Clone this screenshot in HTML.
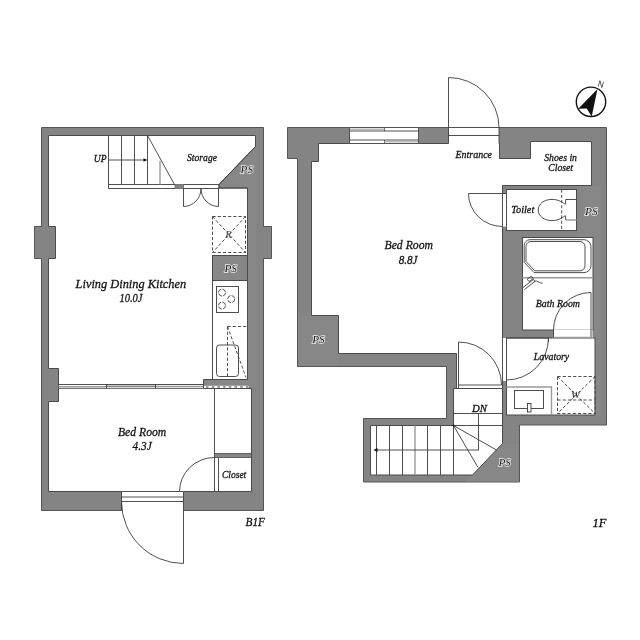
<!DOCTYPE html>
<html lang="en">
<head>
<meta charset="utf-8">
<title>Floor Plan B1F / 1F</title>
<style>
html,body{margin:0;padding:0;background:#fff;}
body{width:640px;height:640px;overflow:hidden;}
svg{display:block;filter:grayscale(1);}
text{font-family:"Liberation Serif","DejaVu Serif",serif;font-style:italic;fill:#111;stroke:#111;stroke-width:0.3px;}
.w{fill:#848484;stroke:#555;stroke-width:1;}
.p{fill:#878787;stroke:none;}
.r{fill:#fff;stroke:#4a4a4a;stroke-width:1;}
.l{fill:none;stroke:#3c3c3c;stroke-width:0.9;}
.g{fill:none;stroke:#9a9a9a;stroke-width:1.4;}
.d{fill:none;stroke:#3c3c3c;stroke-width:0.9;stroke-dasharray:3.2 2;}
.ps{paint-order:stroke;stroke:#f4f4f4;stroke-width:1.5px;stroke-linejoin:round;fill:#111;font-size:11px;}
.s{font-size:11px;}
.b{font-size:13.4px;}
</style>
</head>
<body>
<svg width="640" height="640" viewBox="0 0 640 640">
<rect width="640" height="640" fill="#fff"/>

<!-- ================= B1F ================= -->
<g id="b1f">
<polygon class="w" points="41.5,127.5 263.5,127.5 263.5,226.5 271.5,226.5 271.5,258.5 263.5,258.5 263.5,510.5 41.5,510.5 41.5,258.5 34.5,258.5 34.5,226.5 41.5,226.5"/>
<!-- lighter PS zones -->
<polygon class="p" points="256,147 256,388 247,388 247,188 219,188 219,184.5"/>
<polygon class="r" points="48.5,135.5 255.5,135.5 255.5,146.5 219,184.5 219,188 247.5,188 247.5,388.5 251.5,388.5 251.5,491.5 48.5,491.5 48.5,401.5 58.5,401.5 58.5,368.5 48.5,368.5 48.5,258.5 55.5,258.5 55.5,226.5 48.5,226.5"/>
<polygon class="p" points="256,146.5 219.5,184.5 219.5,187.5 248,187.5 248,388 256,388" />
<path class="l" d="M255.5,146.5L219,184.5V188H247.5" stroke="#4a4a4a"/>
<!-- PS block and kitchen base block -->
<rect x="212.5" y="255.5" width="35" height="25" fill="#878787" stroke="#4a4a4a"/>
<rect x="203.5" y="379.5" width="48.5" height="9" fill="#878787"/><path d="M247.5,379.5H203.5V388.5" fill="none" stroke="#4a4a4a"/>
<rect x="204" y="385.8" width="44.5" height="2.2" fill="#fff"/>
<line x1="204" y1="386.9" x2="248" y2="386.9" stroke="#999" stroke-width="2.2" stroke-dasharray="2.5 3.2" stroke-dashoffset="-2"/>
<path class="l" d="M203.5,388.5H251.5"/>
<!-- stairs -->
<path class="l" d="M108.5,135.5V188.5M121.5,135.5V184.5M134.5,135.5V184.5M147.5,135.5V184.5M108.5,184.5H175M108.5,188.5H175M147.5,135.5L174.5,184.5"/>
<path class="g" d="M160,161V184.5" stroke-width="1"/>
<path class="l" d="M109,160H145" stroke="#666"/>
<polygon points="147.5,160 143.5,158.2 143.5,161.8" fill="#111"/>
<rect x="175" y="184.5" width="8.5" height="4" fill="#848484" stroke="#4a4a4a" stroke-width="0.6"/>
<!-- storage double door -->
<path class="l" d="M183.5,184.5H219M183.5,188.5H219M183.5,188.5V206.5M218.5,188.5V206.5M183.5,206.5A17.5,18 0 0 0 201,188.5M218.5,206.5A17.5,18 0 0 1 201,188.5"/>
<!-- R box -->
<rect class="d" x="212.5" y="216.5" width="33" height="36"/>
<path class="d" d="M212.5,216.5L245.5,252.5M245.5,216.5L212.5,252.5" stroke-dasharray="4 2.2"/>
<!-- kitchen counter -->
<path class="l" d="M212.5,280.5V379.5"/>
<rect class="l" x="216.5" y="286.5" width="22" height="26"/>
<circle class="l" cx="222" cy="292.6" r="3.5" stroke-width="1.1" stroke-dasharray="4.2 1.3"/>
<circle class="l" cx="231.2" cy="299.1" r="3.5" stroke-width="1.1" stroke-dasharray="4.2 1.3"/>
<circle class="l" cx="222" cy="305.6" r="3.5" stroke-width="1.1" stroke-dasharray="4.2 1.3"/>
<path class="d" d="M227.5,326.5H247M227.5,326.5V378M227.5,326.5L246,377.5"/>
<rect class="l" x="216.5" y="345" width="22" height="31.5" rx="3" ry="3"/>
<!-- sliding door -->
<path class="l" d="M58.5,384.5H203.5M58.5,388.3H203.5"/>
<path class="g" d="M58.5,386.6H106M155,386.4H203" stroke-width="1"/>
<path class="l" d="M106.5,384V388.5M155.5,384V388.5M106,386.2H155"/>
<!-- closet -->
<path class="l" d="M214.5,388.5V491.5M218.5,457.5V491.5"/>
<rect x="214.5" y="453.5" width="37" height="4" fill="#878787" stroke="#4a4a4a" stroke-width="0.8"/>
<path class="l" d="M179.5,491.5A35,34 0 0 1 214.5,457.5"/>
<!-- entrance door -->
<rect x="121.5" y="491" width="62" height="20.5" fill="#fff"/>
<path class="l" d="M121.5,491.5H183.5M121.5,497H183.5M121.5,501.5H183.5M121.5,491.5V510.5M183.5,491.5V563.5M121.5,501.5A62,62 0 0 0 183.5,563.5"/>
</g>

<!-- ================= 1F ================= -->
<g id="f1">
<polygon class="w" points="287.5,127.5 606.5,127.5 606.5,425 519.5,425 519.5,482 363.5,482 363.5,418.5 446.5,418.5 446.5,366.5 297.5,366.5 297.5,158.5 287.5,158.5"/>
<!-- lighter PS zones -->
<rect class="p" x="298.5" y="316" width="40" height="50"/>
<rect class="p" x="577" y="186" width="24" height="52"/>
<rect class="p" x="593.5" y="238" width="7.5" height="177"/>
<polygon class="p" points="502.5,444 519,444 519,481.5 466,481.5"/>
<polygon class="r" points="318.5,143.5 499.5,143.5 499.5,158.5 530.5,158.5 530.5,141.5 591.5,141.5 591.5,185.5 502.5,185.5 502.5,388.5 456.5,388.5 456.5,353.5 338.5,353.5 338.5,315.5 311.5,315.5 311.5,161.5 318.5,161.5"/>
<polygon class="r" points="453.5,388.5 502.5,388.5 502.5,443.5 472.5,475 370.5,475 370.5,425.5 453.5,425.5"/>
<rect class="r" x="506.5" y="189.5" width="70" height="41"/>
<rect class="r" x="522.5" y="237.5" width="70.5" height="92.5"/>
<rect class="r" x="506.5" y="338" width="88.5" height="77"/>
<!-- window -->
<rect x="349.5" y="127.5" width="69" height="16" fill="#fff" stroke="#4a4a4a" stroke-width="0.9"/>
<path class="l" d="M349.5,131H418.5M349.5,140H418.5M384.5,128V131M384.5,140V143"/>
<path d="M350,129.2H384.5M384.5,141.8H418" stroke="#bbb" stroke-width="1.4" fill="none"/>
<!-- entrance door -->
<rect x="448.5" y="126.5" width="50.5" height="17.5" fill="#fff"/>
<path class="l" d="M448.5,127.5H499M448.5,135.5H499M448.5,77.5V143.5M499,127.5V143.5M448.5,77.5A50.5,50 0 0 1 499,127.5"/>
<!-- toilet door -->
<rect x="502" y="193.5" width="5" height="33" fill="#fff"/>
<path class="l" d="M502.5,193.5V226.5M506.5,193.5V226.5M468.5,193.5H506.5M468.5,193.5A34,33 0 0 0 502.5,226.5"/>
<!-- toilet -->
<path class="l" d="M565.6,204.2 C563,203.5 560,199.4 552,199.4 C544,199.4 538.2,204 538.2,210 C538.2,216 544,220.6 552,220.6 C560,220.6 563,216.5 565.6,215.8"/>
<path class="l" d="M565.6,199.5H576.5M565.6,199.5V204.2M565.6,215.8V220"/>
<path class="g" d="M565.6,220H576.5"/>
<path class="d" d="M561.7,189.5V230.5"/>
<!-- bathtub -->
<path class="l" d="M530,239.7H584A7,7 0 0 1 591,246.7V265.6A7,7 0 0 1 584,272.6H534L524.2,262.3V245.5A5.8,5.8 0 0 1 530,239.7Z" stroke="#666"/>
<path class="l" d="M531,241.5H580A5,5 0 0 1 585,246.5V265.8A5,5 0 0 1 580,270.8H534.8L526,261.5V246.5A5,5 0 0 1 531,241.5Z"/>
<path class="g" d="M522.5,277.8H593" stroke-width="1.6"/>
<!-- shower -->
<path class="l" d="M523,287.5L533.5,279.5L535,281.3L524.5,289.5M527.2,279.2L531.5,276.2L533.2,278.6L529,281.6ZM534.3,281.2C537.5,280.2 539.5,283.4 542.6,283.2"/>
<!-- bath door -->
<rect x="553.5" y="329.5" width="39" height="8.5" fill="#fff"/>
<path class="l" d="M553.5,330V338M591,292.5V338M591,292.5A37.5,37.5 0 0 0 553.5,330"/>
<path class="g" d="M553.5,337.5H592"/>
<!-- lavatory door -->
<rect x="502" y="338" width="5" height="43" fill="#fff"/>
<path class="l" d="M502.5,338V381.5M506.5,338V381.5M506.5,338H548.5M548.5,338V342M548.5,338A42,42 0 0 1 506.5,380"/>
<!-- sink -->
<path class="g" d="M506.5,387H551.5V415"/>
<rect class="l" x="514.5" y="390.5" width="29" height="18"/>
<rect x="527.5" y="403.5" width="3.5" height="8.5" fill="#fff" stroke="#3c3c3c" stroke-width="0.9"/>
<!-- W box -->
<rect class="d" x="557.5" y="376.5" width="37.5" height="37"/>
<path class="d" d="M557.5,376.5L595,413.5M595,376.5L557.5,413.5M557.5,400H595" stroke-dasharray="4 2.2"/>
<!-- stairs door -->
<path class="l" d="M458.5,342V388.5M458.5,385H501.5M458.5,342A43,43 0 0 1 501.5,385"/>
<!-- stairs -->
<path class="l" d="M453.5,413.5H502.5M453.5,425.5H502.5M376.5,425.5V475M389.5,425.5V475M402.5,425.5V475M427.5,425.5V475M440.5,425.5V475M453.5,425.5V475M453.5,425.5L496.5,450M453.5,425.5L478,467.5"/>
<path class="g" d="M415,425.5V475"/>
<path class="l" d="M377,450H478" stroke="#666"/>
<path class="l" d="M478.5,413.5V450.5"/>
<polygon points="373.5,450 377.5,448 377.5,452" fill="#111"/>
<circle cx="453.5" cy="425.5" r="1" fill="#111"/>
</g>

<!-- compass -->
<circle cx="591" cy="101.8" r="14.7" fill="#fff" stroke="#111" stroke-width="1.4"/>
<polygon points="597.5,89.1 578.3,108.8 586.7,108.4 591.7,116.6" fill="#111"/>
<text x="0" y="0" transform="translate(597.2,86.3) rotate(16)" textLength="5.8" lengthAdjust="spacingAndGlyphs" style="font-family:'Liberation Sans',sans-serif;font-size:8.8px;font-style:normal;stroke:none;fill:#222">N</text>

<!-- labels -->
<text class="s" x="93.75" y="162" textLength="12.75" lengthAdjust="spacingAndGlyphs">UP</text>
<text class="s" x="187" y="160.75" textLength="30" lengthAdjust="spacingAndGlyphs">Storage</text>
<text class="s ps" x="240.6" y="173" textLength="12.4" lengthAdjust="spacingAndGlyphs">PS</text>
<text class="s" x="225.2" y="237.8" textLength="6.5" lengthAdjust="spacingAndGlyphs" style="fill:#444;stroke:none">R</text>
<text class="s ps" x="224.5" y="272" textLength="12.5" lengthAdjust="spacingAndGlyphs">PS</text>
<text class="b" x="75.6" y="287.5" textLength="110.6" lengthAdjust="spacingAndGlyphs">Living Dining Kitchen</text>
<text class="b" x="119.4" y="302" textLength="23.1" lengthAdjust="spacingAndGlyphs">10.0J</text>
<text class="b" x="118" y="436.25" textLength="48.25" lengthAdjust="spacingAndGlyphs">Bed Room</text>
<text class="b" x="132.5" y="450.1" textLength="19.25" lengthAdjust="spacingAndGlyphs">4.3J</text>
<text class="s" x="222" y="478" textLength="24.25" lengthAdjust="spacingAndGlyphs">Closet</text>
<text class="b" x="245.5" y="525.5" textLength="19.5" lengthAdjust="spacingAndGlyphs">B1F</text>

<text class="s" x="455.5" y="158.25" textLength="36.5" lengthAdjust="spacingAndGlyphs">Entrance</text>
<text class="s" x="544.25" y="161.25" textLength="32.75" lengthAdjust="spacingAndGlyphs">Shoes in</text>
<text class="s" x="548.25" y="170.75" textLength="24.75" lengthAdjust="spacingAndGlyphs">Closet</text>
<text class="s" x="511.25" y="212.5" textLength="23" lengthAdjust="spacingAndGlyphs">Toilet</text>
<text class="s ps" x="585" y="215" textLength="12.6" lengthAdjust="spacingAndGlyphs">PS</text>
<text class="b" x="384.5" y="248.75" textLength="48.5" lengthAdjust="spacingAndGlyphs">Bed Room</text>
<text class="b" x="398.75" y="263.5" textLength="18.75" lengthAdjust="spacingAndGlyphs">8.8J</text>
<text class="s" x="535.8" y="307.4" textLength="44.2" lengthAdjust="spacingAndGlyphs">Bath Room</text>
<text class="s" x="533.75" y="360" textLength="35.5" lengthAdjust="spacingAndGlyphs">Lavatory</text>
<text class="s" x="570.8" y="398" textLength="9.5" lengthAdjust="spacingAndGlyphs" style="fill:#333;stroke:none">W</text>
<text class="s" x="472" y="411.7" textLength="15" lengthAdjust="spacingAndGlyphs">DN</text>
<text class="s ps" x="498.75" y="465.75" textLength="12" lengthAdjust="spacingAndGlyphs">PS</text>
<text class="s ps" x="312.2" y="343.4" textLength="12.5" lengthAdjust="spacingAndGlyphs">PS</text>
<text class="b" x="592.5" y="526.6" textLength="14" lengthAdjust="spacingAndGlyphs">1F</text>
</svg>
</body>
</html>
